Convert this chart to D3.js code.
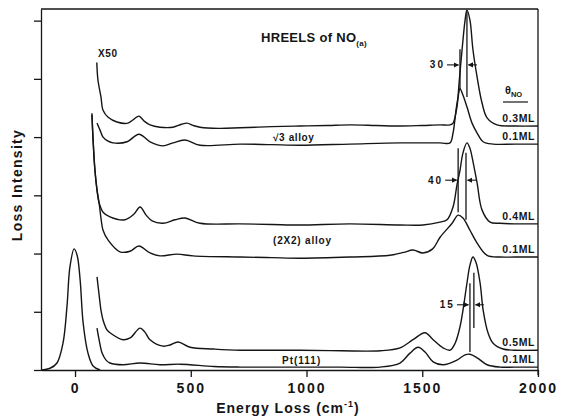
<!DOCTYPE html>
<html><head><meta charset="utf-8">
<script src="https://cdn.jsdelivr.net/npm/d3@7"></script>
<style>
html,body{margin:0;padding:0;background:#fff;}
svg{display:block;font-family:"Liberation Sans",Arial,Helvetica,sans-serif;font-weight:bold;}
</style></head>
<body><svg id="c" width="562" height="417"></svg>
<script>
// ---- data (energy loss cm^-1, loss intensity in arbitrary units) ----
const energyTicks = [0, 500, 1000, 1500, 2000];
const intensityTicks = [0, 1, 2, 3, 4, 5, 6];

const sqrt3_03ML = [[94,5.28],[99,4.98],[112,4.69],[121,4.46],[143,4.34],[181,4.26],[229,4.24],[255,4.31],[276,4.36],[300,4.27],[324,4.21],[367,4.17],[423,4.17],[460,4.22],[484,4.24],[510,4.20],[540,4.17],[620,4.15],[713,4.16],[850,4.18],[972,4.19],[1090,4.20],[1188,4.21],[1300,4.20],[1404,4.19],[1500,4.20],[1577,4.21],[1620,4.21],[1633,4.24],[1650,4.52],[1659,4.93],[1672,5.50],[1685,6.01],[1693,6.18],[1706,6.01],[1719,5.50],[1737,5.03],[1758,4.59],[1780,4.33],[1823,4.21],[1900,4.19],[2000,4.19]];
const sqrt3_01ML = [[95,4.24],[108,4.12],[121,4.00],[143,3.93],[164,3.90],[225,3.92],[276,4.05],[324,3.92],[380,3.85],[423,3.90],[475,3.95],[540,3.86],[713,3.88],[850,3.87],[972,3.86],[1188,3.88],[1404,3.90],[1577,3.90],[1620,3.90],[1633,4.07],[1646,4.47],[1655,4.69],[1663,4.83],[1676,4.72],[1693,4.52],[1715,4.24],[1737,4.07],[1763,3.92],[1806,3.88],[1900,3.88],[2000,3.88]];
const x2_04ML = [[73,4.41],[78,3.95],[86,3.43],[95,3.09],[104,2.87],[121,2.71],[151,2.63],[216,2.58],[255,2.68],[281,2.80],[307,2.66],[333,2.56],[380,2.52],[432,2.58],[475,2.61],[540,2.52],[713,2.51],[850,2.50],[972,2.49],[1188,2.51],[1404,2.49],[1503,2.49],[1577,2.54],[1607,2.58],[1633,2.80],[1650,3.18],[1663,3.43],[1676,3.73],[1693,3.90],[1706,3.81],[1715,3.66],[1737,3.21],[1758,2.75],[1793,2.54],[1836,2.52],[1900,2.51],[2000,2.51]];
const x2_01ML = [[73,4.38],[78,3.95],[86,3.43],[95,3.09],[104,2.87],[112,2.61],[121,2.40],[143,2.23],[194,2.03],[238,2.04],[276,2.13],[324,2.01],[367,1.96],[441,1.99],[510,1.96],[713,1.94],[850,1.93],[972,1.92],[1188,1.94],[1361,1.97],[1420,2.02],[1460,2.06],[1503,2.01],[1545,2.08],[1577,2.28],[1629,2.52],[1655,2.66],[1676,2.61],[1706,2.40],[1737,2.18],[1780,1.97],[1836,1.94],[1900,1.94],[2000,1.94]];
const pt_05ML = [[95,1.60],[104,1.29],[112,1.03],[121,0.86],[138,0.69],[151,0.64],[207,0.52],[238,0.55],[281,0.72],[302,0.65],[324,0.52],[380,0.41],[410,0.43],[445,0.48],[497,0.39],[600,0.36],[713,0.34],[972,0.34],[1150,0.33],[1318,0.33],[1404,0.38],[1460,0.52],[1512,0.64],[1547,0.52],[1590,0.38],[1620,0.34],[1642,0.46],[1663,0.74],[1676,1.03],[1693,1.49],[1706,1.80],[1719,1.94],[1732,1.85],[1750,1.49],[1763,1.03],[1784,0.64],[1806,0.46],[1849,0.36],[1900,0.34],[2000,0.34]];
const pt_01ML = [[95,0.72],[104,0.52],[117,0.29],[134,0.17],[151,0.12],[207,0.09],[281,0.12],[367,0.09],[454,0.10],[600,0.06],[713,0.05],[972,0.05],[1150,0.05],[1318,0.05],[1404,0.12],[1447,0.29],[1482,0.39],[1512,0.31],[1547,0.14],[1590,0.09],[1650,0.17],[1685,0.26],[1706,0.27],[1737,0.21],[1780,0.09],[1836,0.05],[1900,0.05],[2000,0.05]];
const elasticPeak = [[-147,0],[-108,0.03],[-78,0.12],[-52,0.46],[-35,1.08],[-22,1.77],[-4,2.08],[9,1.97],[22,1.55],[35,0.81],[56,0.29],[78,0.07],[108,0]];

const spectra = [sqrt3_03ML, sqrt3_01ML, x2_04ML, x2_01ML, pt_05ML, pt_01ML];
const coverageLabels = ["0.3ML", "0.1ML", "0.4ML", "0.1ML", "0.5ML", "0.1ML"];

// peak shift markers
const shiftLabels = ["30", "40", "15"];
const shiftLeftE = [1663, 1655, 1706];
const shiftRightE = [1693, 1689, 1723];
const shiftLeftSpan = [[4.81, 5.51], [2.71, 3.81], [0.31, 1.49]];
const shiftRightSpan = [[4.69, 6.18], [2.58, 3.73], [0.72, 1.67]];
const shiftArrowV = [5.24, 3.26, 1.12];

// ---- drawing ----
const svg = d3.select("#c");
const x = d3.scaleLinear().domain([-147, 2000]).range([41, 538]);
const y = d3.scaleLinear().domain([0, 6.2]).range([370, 9]);
const ink = "#151515";

const line = d3.line().x(d => x(d[0])).y(d => y(d[1])).curve(d3.curveCatmullRom.alpha(0.5));

// frame
svg.append("line").attr("x1", x(-147)).attr("x2", x(2000)).attr("y1", y(6.2)).attr("y2", y(6.2)).attr("stroke", ink).attr("stroke-width", 1.3);
svg.append("line").attr("x1", x(2000)).attr("x2", x(2000)).attr("y1", y(6.2)).attr("y2", y(0) + 5).attr("stroke", ink).attr("stroke-width", 1.3);

const gx = svg.append("g").attr("transform", `translate(0,${y(0)})`)
  .call(d3.axisBottom(x).tickValues(energyTicks).tickSize(7).tickSizeOuter(0).tickFormat(d3.format("d")));
gx.selectAll("path,line").attr("stroke", ink).attr("stroke-width", 1.3);
gx.selectAll("text").attr("font-size", 14).attr("font-weight", "bold").attr("fill", ink)
  .attr("letter-spacing", 2).attr("dy", "0.9em").attr("font-family", '"Liberation Sans",Arial,sans-serif');

const gy = svg.append("g").attr("transform", `translate(${x(-147)},0)`)
  .call(d3.axisLeft(y).tickValues(intensityTicks).tickSize(7).tickSizeOuter(0).tickFormat(""));
gy.selectAll("path,line").attr("stroke", ink).attr("stroke-width", 1.3);

// axis titles
const xt = svg.append("text").attr("x", 288).attr("y", 413).attr("text-anchor", "middle")
  .attr("font-size", 14).attr("letter-spacing", 1).attr("fill", ink);
xt.append("tspan").text("Energy Loss (cm");
xt.append("tspan").attr("font-size", 9).attr("dy", -6).text("-1");
xt.append("tspan").attr("dy", 6).text(")");

svg.append("text").attr("transform", "translate(22,185) rotate(-90)").attr("text-anchor", "middle")
  .attr("font-size", 14).attr("letter-spacing", 1.3).attr("fill", ink).text("Loss Intensity");

// spectra
svg.append("g").selectAll("path").data(spectra.concat([elasticPeak])).join("path")
  .attr("d", line).attr("fill", "none").attr("stroke", ink).attr("stroke-width", 1.4)
  .attr("stroke-linejoin", "round");

// coverage labels
svg.append("g").selectAll("text").data(spectra).join("text")
  .attr("x", 535).attr("y", d => y(d[d.length - 1][1]) - 4).attr("text-anchor", "end")
  .attr("font-size", 10.5).attr("letter-spacing", 0.6).attr("fill", ink)
  .text((d, i) => coverageLabels[i]);

// theta_NO
const th = svg.append("text").attr("x", 505).attr("y", 94).attr("fill", ink).attr("font-size", 11);
th.append("tspan").text("θ");
th.append("tspan").attr("font-size", 7.5).attr("dy", 3).text("NO");
svg.append("line").attr("x1", 503).attr("x2", 528).attr("y1", 102).attr("y2", 102).attr("stroke", ink).attr("stroke-width", 1.2);

// title and annotations
const tt = svg.append("text").attr("x", 261).attr("y", 42).attr("font-size", 13).attr("letter-spacing", 0.3).attr("fill", ink);
tt.append("tspan").text("HREELS of NO");
tt.append("tspan").attr("font-size", 8).attr("dy", 4).text("(a)");

svg.append("text").attr("x", 98).attr("y", 57).attr("font-size", 10).attr("letter-spacing", 0.6).attr("fill", ink).text("X50");
svg.append("text").attr("x", 273).attr("y", 141).attr("font-size", 10).attr("letter-spacing", 0.6).attr("fill", ink).text("√3  alloy");
svg.append("text").attr("x", 273).attr("y", 244).attr("font-size", 10).attr("letter-spacing", 0.8).attr("fill", ink).text("(2X2)  alloy");
svg.append("text").attr("x", 282).attr("y", 364).attr("font-size", 10).attr("letter-spacing", 1).attr("fill", ink).text("Pt(111)");

// shift markers
const defs = svg.append("defs");
defs.append("marker").attr("id", "ah").attr("viewBox", "0 0 10 10").attr("refX", 9).attr("refY", 5)
  .attr("markerWidth", 5).attr("markerHeight", 5).attr("orient", "auto")
  .append("path").attr("d", "M0,0L10,5L0,10z").attr("fill", ink);

shiftLabels.forEach((lab, i) => {
  const xl = x(shiftLeftE[i]), xr = x(shiftRightE[i]), ya = y(shiftArrowV[i]);
  svg.append("line").attr("x1", xl).attr("x2", xl).attr("y1", y(shiftLeftSpan[i][0])).attr("y2", y(shiftLeftSpan[i][1])).attr("stroke", ink).attr("stroke-width", 1.3);
  svg.append("line").attr("x1", xr).attr("x2", xr).attr("y1", y(shiftRightSpan[i][0])).attr("y2", y(shiftRightSpan[i][1])).attr("stroke", ink).attr("stroke-width", 1.3);
  svg.append("line").attr("x1", xl - 13).attr("x2", xl - 1.5).attr("y1", ya).attr("y2", ya).attr("stroke", ink).attr("stroke-width", 1.1).attr("marker-end", "url(#ah)");
  svg.append("line").attr("x1", xr + 10).attr("x2", xr + 1.5).attr("y1", ya).attr("y2", ya).attr("stroke", ink).attr("stroke-width", 1.1).attr("marker-end", "url(#ah)");
  svg.append("text").attr("x", xl - 15).attr("y", ya + 3.5).attr("text-anchor", "end").attr("font-size", 10).attr("letter-spacing", 2).attr("fill", ink).text(lab);
});
</script></body></html>
